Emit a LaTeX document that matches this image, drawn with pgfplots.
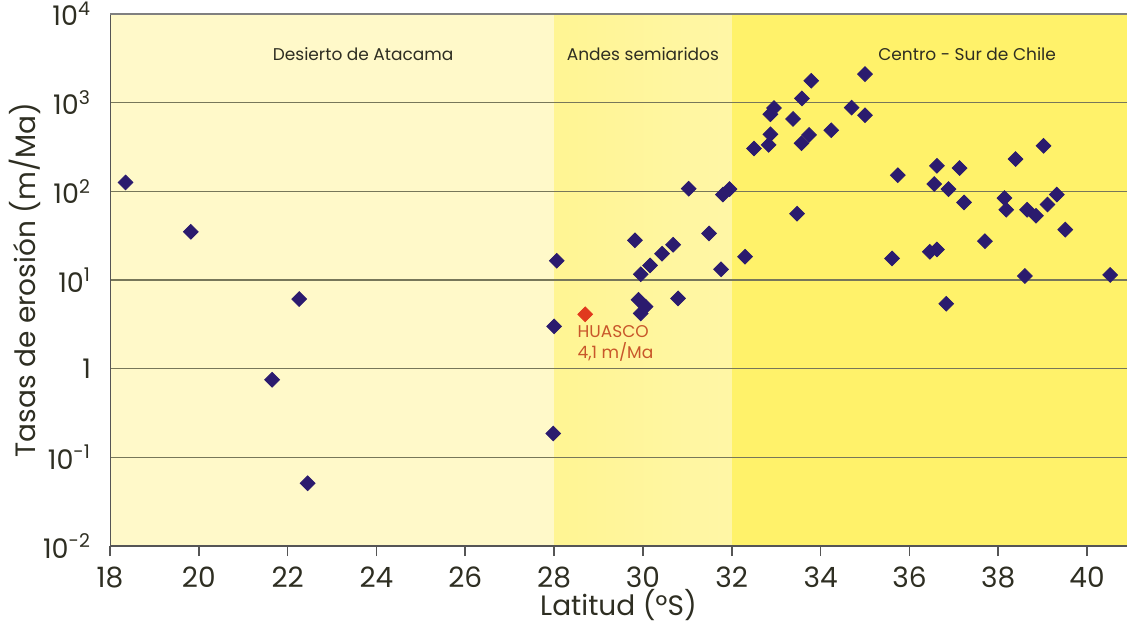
\documentclass[border=0pt]{standalone}
\usepackage{fontspec}
\setmainfont{Poppins}
\usepackage{pgfplots}
\pgfplotsset{compat=1.18}
\definecolor{bandA}{HTML}{FFF9C9}
\definecolor{bandBl}{HTML}{FFF593}
\definecolor{bandBr}{HTML}{FFF6A6}
\definecolor{bandC}{HTML}{FFF26A}
\definecolor{navy}{HTML}{2B1B6E}
\definecolor{redpt}{HTML}{E0391E}
\definecolor{huasco}{HTML}{C8562A}
\definecolor{gridc}{HTML}{77775A}
\definecolor{axisc}{HTML}{555555}
\definecolor{txt}{HTML}{2E2E22}
\pgfplotstableread{
lat rate
18.35 126
19.82 35
22.26 6.1
21.65 0.75
22.45 0.051
28.06 16.5
28.00 3.0
27.98 0.186
29.82 28
29.95 11.6
30.16 14.6
30.43 19.8
30.68 25
29.90 6.0
30.06 5.0
29.95 4.2
30.79 6.2
31.03 107
31.49 33.5
31.76 13.2
31.80 92
31.95 106
32.30 18.3
32.50 304
32.83 334
32.87 440
32.87 740
32.95 870
33.38 656
33.58 1117
33.79 1766
33.57 349
33.74 433
33.47 56
34.24 489
34.70 879
35.00 2100
35.00 721
35.61 17.5
35.74 152
36.46 20.8
36.62 22.1
36.56 121
36.62 194
36.88 106
36.83 5.4
37.13 183
37.23 75
37.70 27.4
38.14 84
38.18 62
38.39 231
38.60 11.1
38.65 62
38.85 53
39.02 326
39.11 71
39.32 92
39.51 37
40.52 11.4
}\datamain
\pgfplotstableread{
lat rate
28.70 4.1
}\datahuasco
\begin{document}
\begin{tikzpicture}
\pgfplotsset{set layers}
\begin{axis}[
  scale only axis, width=508.5pt, height=266pt,
  xmin=18, xmax=40.9, ymode=log, ymin=1e-2, ymax=1e4,
  xtick={18,20,...,40},
  ytick={1e-2,1e-1,1,1e1,1e2,1e3,1e4},
  yticklabels={10\textsuperscript{-2},10\textsuperscript{-1},1,10\textsuperscript{1},10\textsuperscript{2},10\textsuperscript{3},10\textsuperscript{4}},
  /pgf/number format/assume math mode=true,
  ymajorgrids, grid style={draw=gridc, line width=0.6pt},
  axis line style={draw=none},
  xtick pos=bottom, ytick pos=left,
  tick align=outside, major tick length=5pt,
  xtick style={draw=axisc, line width=0.8pt},
  ytick style={draw=none}, minor tick num=0,
  yminorticks=false,
  xticklabel style={font=\fontsize{14}{14}\selectfont, text=txt, yshift=-2pt},
  yticklabel style={font=\fontsize{13.5}{14}\selectfont, text=txt, xshift=-1pt},
  xlabel={Latitud (ºS)}, ylabel={Tasas de erosión (m/Ma)},
  xlabel style={font=\fontsize{14}{14}\selectfont, text=txt, at={(axis description cs:0.5,-0.111)}, anchor=center},
  ylabel style={font=\fontsize{14}{14}\selectfont, text=txt, at={(axis description cs:-0.0836,0.5)}, anchor=center},
]
\begin{pgfonlayer}{axis background}
\fill[bandA] (axis cs:18,1e-2) rectangle (axis cs:28,1e4);
\shade[left color=bandBl, right color=bandBr] (axis cs:28,1e-2) rectangle (axis cs:32,1e4);
\fill[bandC] (axis cs:32,1e-2) rectangle (rel axis cs:1,1);
\end{pgfonlayer}
\addplot[only marks, mark=square*, mark size=2.6pt, mark options={rotate=45, fill=navy, draw=navy}] table[x=lat, y=rate] {\datamain};
\addplot[only marks, mark=square*, mark size=2.6pt, mark options={rotate=45, fill=redpt, draw=redpt}] table[x=lat, y=rate] {\datahuasco};
\node[font=\fontsize{8.5}{10}\selectfont, text=txt] at (axis cs:23.7,3550) {Desierto de Atacama};
\node[font=\fontsize{8.5}{10}\selectfont, text=txt] at (axis cs:30.0,3550) {Andes semiaridos};
\node[font=\fontsize{8.5}{10}\selectfont, text=txt] at (axis cs:37.3,3550) {Centro - Sur de Chile};
\node[font=\fontsize{8.5}{10.5}\selectfont, text=huasco, align=left, anchor=north west, inner sep=0pt] at (axis cs:28.52,3.1) {HUASCO\\4,1 m/Ma};
\draw[axisc, line width=1.3pt] (rel axis cs:0,1) -- (rel axis cs:0,0) -- (rel axis cs:1,0);
\draw[gray, line width=1pt] (rel axis cs:0,1) -- (rel axis cs:1,1);
\end{axis}
\pgfresetboundingbox
\path[use as bounding box] (-55pt,-43.5pt) rectangle (508.5pt,273pt);
\end{tikzpicture}
\end{document}
